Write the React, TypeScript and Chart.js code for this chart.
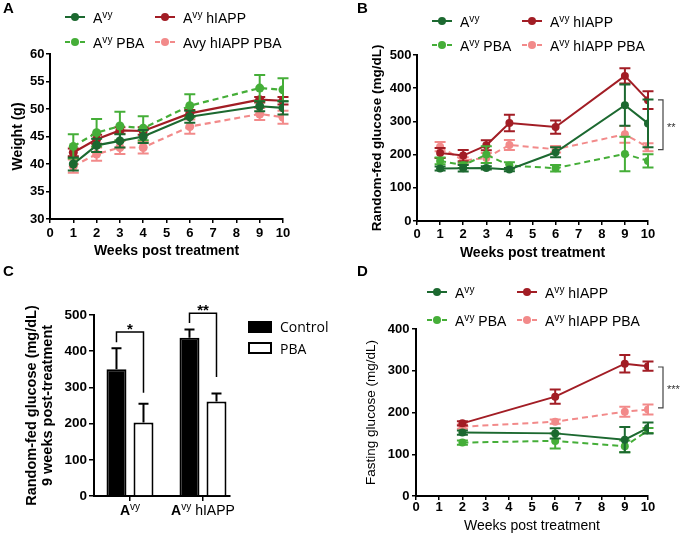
import React, { useEffect, useRef } from 'react';
import { Chart, registerables } from 'chart.js';

Chart.register(...registerables);

const FONT = "'Liberation Sans', Arial, Helvetica, sans-serif";
const FONT_C_LEGEND = "'Open Sans', 'Noto Sans', sans-serif";

const COLOR_AVY = '#1c6930';
const COLOR_AVY_PBA = '#45ae38';
const COLOR_HIAPP = '#a21d25';
const COLOR_HIAPP_PBA = '#f28a8a';

// ---- legend labels ----
const labelsA = ['A^{vy}', 'A^{vy} PBA', 'A^{vy} hIAPP', 'Avy hIAPP PBA'];
const labelsBD = ['A^{vy}', 'A^{vy} PBA', 'A^{vy} hIAPP', 'A^{vy} hIAPP PBA'];

// ---- Panel A: weight (g) ----
const weeksAB = [1, 2, 3, 4, 6, 9, 10];
const weightAvy = [40.0, 43.4, 44.2, 45.0, 48.6, 50.5, 50.2];
const weightAvyErr = [1.2, 1.2, 1.2, 1.2, 1.1, 0.9, 1.2];
const weightAvyPBA = [43.2, 45.7, 46.9, 46.5, 50.6, 53.8, 53.5];
const weightAvyPBAErr = [2.2, 2.5, 2.6, 2.2, 2.1, 2.4, 2.1];
const weightHiapp = [42.1, 44.5, 46.1, 46.0, 49.2, 51.7, 51.5];
const weightHiappErr = [0.7, 0.8, 0.6, 0.7, 0.6, 0.5, 0.7];
const weightHiappPBA = [39.6, 41.8, 43.0, 43.0, 46.8, 49.1, 48.5];
const weightHiappPBAErr = [1.2, 1.2, 1.2, 1.1, 1.3, 1.1, 1.2];

// ---- Panel B: random-fed glucose (mg/dL) ----
const rfAvy = [158, 159, 160, 155, 207, 349, 294];
const rfAvyErr = [6, 10, 5, 5, 15, 62, 72];
const rfAvyPBA = [181, 168, 200, 167, 159, 202, 181];
const rfAvyPBAErr = [10, 8, 25, 10, 10, 52, 20];
const rfHiapp = [205, 197, 228, 295, 283, 437, 364];
const rfHiappErr = [15, 17, 15, 25, 20, 23, 27];
const rfHiappPBA = [224, 182, 190, 229, 216, 261, 222];
const rfHiappPBAErr = [14, 10, 15, 15, 10, 25, 12];
const bracketB = [215, 365];

// ---- Panel C: random-fed glucose at 9 weeks ----
const groupsC = ['A^{vy}', 'A^{vy} hIAPP'];
const controlC = [350, 437];
const controlCErr = [58, 23];
const pbaC = [203, 261];
const pbaCErr = [52, 22];
const bracketTopC = [453, 505];
const bracketControlLegC = [425, 478];
const bracketPbaLegC = [285, 329];
const starsC = ['*', '**'];

// ---- Panel D: fasting glucose (mg/dL) ----
const weeksD = [2, 6, 9, 10];
const fAvy = [152, 150, 135, 163];
const fAvyErr = [5, 12, 30, 13];
const fAvyPBA = [128, 132, 119, 157];
const fAvyPBAErr = [5, 18, 14, 6];
const fHiapp = [174, 238, 317, 311];
const fHiappErr = [5, 17, 21, 11];
const fHiappPBA = [166, 178, 202, 207];
const fHiappPBAErr = [5, 5, 12, 12];
const bracketD = [211, 309];

type Part = { t: string; sup?: boolean; bold?: boolean };

function parseRich(s: string): Part[] {
  const parts: Part[] = [];
  const re = /\^\{([^}]*)\}/g;
  let last = 0;
  let m: RegExpExecArray | null;
  while ((m = re.exec(s))) {
    if (m.index > last) parts.push({ t: s.slice(last, m.index) });
    parts.push({ t: m[1], sup: true });
    last = m.index + m[0].length;
  }
  if (last < s.length) parts.push({ t: s.slice(last) });
  return parts;
}

function drawRich(ctx: any, parts: Part[], x: number, y: number, size: number, align: string, color: string, family = FONT) {
  const fontFor = (p: Part) => `${p.bold ? 'bold ' : ''}${p.sup ? size * 0.72 : size}px ${family}`;
  let total = 0;
  for (const p of parts) {
    ctx.font = fontFor(p);
    total += ctx.measureText(p.t).width;
  }
  let cx = align === 'center' ? x - total / 2 : align === 'right' ? x - total : x;
  ctx.save();
  ctx.fillStyle = color;
  ctx.textBaseline = 'alphabetic';
  ctx.textAlign = 'left';
  for (const p of parts) {
    ctx.font = fontFor(p);
    ctx.fillText(p.t, cx, p.sup ? y - size * 0.38 : y);
    cx += ctx.measureText(p.t).width;
  }
  ctx.restore();
}

function drawErrors(chart: any, di: number, errs: number[], color: string, upOnly: boolean, capHalf: number, lw: number) {
  if (!errs) return;
  const meta = chart.getDatasetMeta(di);
  const ys = chart.scales[meta.yAxisID];
  const ds = chart.data.datasets[di];
  const ctx = chart.ctx;
  ctx.save();
  ctx.strokeStyle = color;
  ctx.lineWidth = lw;
  ctx.setLineDash([]);
  meta.data.forEach((el: any, i: number) => {
    const raw = ds.data[i];
    const v = typeof raw === 'number' ? raw : raw.y;
    const e = errs[i];
    const x = el.x;
    const top = ys.getPixelForValue(v + e);
    const bot = ys.getPixelForValue(upOnly ? v : v - e);
    ctx.beginPath();
    ctx.moveTo(x, top);
    ctx.lineTo(x, bot);
    ctx.moveTo(x - capHalf, top);
    ctx.lineTo(x + capHalf, top);
    if (!upOnly) {
      ctx.moveTo(x - capHalf, bot);
      ctx.lineTo(x + capHalf, bot);
    }
    ctx.stroke();
  });
  ctx.restore();
}

function drawSample(ctx: any, x: number, y: number, color: string, dashed: boolean, r: number, lw: number) {
  ctx.save();
  ctx.strokeStyle = color;
  ctx.fillStyle = color;
  ctx.lineWidth = lw;
  ctx.beginPath();
  if (dashed) {
    ctx.moveTo(x, y);
    ctx.lineTo(x + 5, y);
    ctx.moveTo(x + 15, y);
    ctx.lineTo(x + 20, y);
  } else {
    ctx.moveTo(x, y);
    ctx.lineTo(x + 20, y);
  }
  ctx.stroke();
  ctx.beginPath();
  ctx.arc(x + 10, y, r, 0, Math.PI * 2);
  ctx.fill();
  ctx.restore();
}

function drawLetter(ctx: any, t: string, x: number, y: number) {
  ctx.save();
  ctx.font = `bold 15px ${FONT}`;
  ctx.fillStyle = '#000';
  ctx.textAlign = 'left';
  ctx.textBaseline = 'alphabetic';
  ctx.fillText(t, x, y);
  ctx.restore();
}

function axisCommon(tickSize: number, tickLen: number, pad: number) {
  return {
    grid: { display: true, drawOnChartArea: false, drawTicks: true, tickLength: tickLen, color: '#000', lineWidth: 1.5 },
    border: { display: true, color: '#000', width: 2 },
    ticks: { font: { family: FONT, size: tickSize, weight: 'bold' }, color: '#000', padding: pad, autoSkip: false, maxRotation: 0 },
  };
}

function makeLineChart(canvas: HTMLCanvasElement, spec: any) {
  const { w, h, area } = spec;
  const datasets = spec.series.map((s: any) => ({
    label: s.label,
    data: spec.weeks.map((wk: number, i: number) => ({ x: wk, y: s.values[i] })),
    borderColor: s.color,
    backgroundColor: s.color,
    borderWidth: spec.lineWidth,
    borderDash: s.dashed ? [6, 4] : [],
    pointRadius: spec.pointRadius,
    pointBackgroundColor: s.color,
    pointBorderWidth: 0,
    tension: 0,
    fill: false,
    errors: s.errors,
  }));
  const xa: any = axisCommon(spec.tickSize, 4, spec.xTickPad);
  const ya: any = axisCommon(spec.tickSize, 4, spec.yTickPad);
  const plugin = {
    id: 'extras' + spec.letter.t,
    afterDatasetDraw(chart: any, args: any) {
      const ds = chart.data.datasets[args.index];
      drawErrors(chart, args.index, ds.errors, ds.borderColor, false, spec.capHalf, 2);
    },
    afterDraw(chart: any) {
      const ctx = chart.ctx;
      const L = spec.legend;
      const pos = [[L.x1, L.y1], [L.x1, L.y2], [L.x2, L.y1], [L.x2, L.y2]];
      spec.series.forEach((s: any, i: number) => {
        const [x, y] = pos[i];
        drawSample(ctx, x, y, s.color, s.dashed, spec.legendDot, 2);
        drawRich(ctx, parseRich(s.label), x + 28, y + L.textDy, L.size, 'left', '#000');
      });
      if (spec.bracket) {
        const b = spec.bracket;
        const ys = chart.scales.y;
        const bx = chart.chartArea.right + 15;
        const y1 = ys.getPixelForValue(b.values[1]);
        const y2 = ys.getPixelForValue(b.values[0]);
        ctx.save();
        ctx.strokeStyle = '#444';
        ctx.lineWidth = 1.2;
        ctx.beginPath();
        ctx.moveTo(bx - 5, y1);
        ctx.lineTo(bx, y1);
        ctx.lineTo(bx, y2);
        ctx.lineTo(bx - 5, y2);
        ctx.stroke();
        ctx.font = `11px ${FONT}`;
        ctx.fillStyle = '#333';
        ctx.textAlign = 'left';
        ctx.textBaseline = 'alphabetic';
        ctx.fillText(b.stars, bx + 4, (y1 + y2) / 2 + 6);
        ctx.restore();
      }
      drawLetter(ctx, spec.letter.t, spec.letter.x, spec.letter.y);
    },
  };
  return new Chart(canvas, {
    type: 'line',
    data: { datasets },
    options: {
      responsive: false,
      maintainAspectRatio: false,
      animation: false,
      events: [],
      layout: { padding: { left: 0, top: area.top, right: w - area.right, bottom: 0 } },
      plugins: { legend: { display: false }, tooltip: { enabled: false }, title: { display: false } },
      scales: {
        x: {
          type: 'linear',
          min: 0,
          max: 10,
          ...xa,
          ticks: { ...xa.ticks, stepSize: 1 },
          title: {
            display: true,
            text: spec.xTitle,
            color: '#000',
            font: { family: FONT, size: spec.xTitleSize, weight: spec.xTitleBold ? 'bold' : 'normal' },
            padding: { top: 0, bottom: spec.xTitlePad },
          },
          afterFit: (s: any) => { s.height = h - area.bottom; },
        },
        y: {
          type: 'linear',
          min: spec.yMin,
          max: spec.yMax,
          ...ya,
          ticks: { ...ya.ticks, stepSize: spec.yStep },
          title: {
            display: true,
            text: spec.yTitle,
            color: '#000',
            font: { family: FONT, size: spec.yTitleSize, weight: spec.yTitleBold ? 'bold' : 'normal' },
            padding: { top: spec.yTitlePad, bottom: 0 },
          },
          afterFit: (s: any) => { s.width = area.left; },
        },
      },
    } as any,
    plugins: [plugin as any],
  });
}

function buildSeries(labels: string[], vals: number[][], errs: number[][]) {
  const colors = [COLOR_AVY, COLOR_AVY_PBA, COLOR_HIAPP, COLOR_HIAPP_PBA];
  const dashed = [false, true, false, true];
  return labels.map((label, i) => ({ label, color: colors[i], dashed: dashed[i], values: vals[i], errors: errs[i] }));
}

function makeBarChart(canvas: HTMLCanvasElement) {
  const w = 340, h = 273;
  const area = { left: 94, right: 230, top: 53, bottom: 234 };
  const xa: any = axisCommon(13.5, 5, 2);
  const ya: any = axisCommon(13.5, 5, 2);
  const plugin = {
    id: 'extrasC',
    afterDatasetDraw(chart: any, args: any) {
      const ds = chart.data.datasets[args.index];
      drawErrors(chart, args.index, ds.errors, '#000', true, 5, 2);
    },
    afterDraw(chart: any) {
      const ctx = chart.ctx;
      const xs = chart.scales.x;
      const ys = chart.scales.y;
      // category labels
      groupsC.forEach((g, i) => {
        const parts = parseRich(g);
        parts[0] = { t: parts[0].t, bold: true };
        drawRich(ctx, parts, xs.getPixelForValue(i), 253, 14, 'center', '#000');
      });
      // significance brackets
      const m0 = chart.getDatasetMeta(0);
      const m1 = chart.getDatasetMeta(1);
      ctx.save();
      ctx.strokeStyle = '#000';
      ctx.lineWidth = 1.5;
      groupsC.forEach((_, i) => {
        const lx = m0.data[i].x;
        const rx = m1.data[i].x;
        const yt = ys.getPixelForValue(bracketTopC[i]);
        ctx.beginPath();
        ctx.moveTo(lx, ys.getPixelForValue(bracketControlLegC[i]));
        ctx.lineTo(lx, yt);
        ctx.lineTo(rx, yt);
        ctx.lineTo(rx, ys.getPixelForValue(bracketPbaLegC[i]));
        ctx.stroke();
        ctx.font = `bold 15px ${FONT}`;
        ctx.fillStyle = '#000';
        ctx.textAlign = 'center';
        ctx.textBaseline = 'alphabetic';
        ctx.fillText(starsC[i], (lx + rx) / 2, yt + 2);
      });
      ctx.restore();
      // legend
      ctx.save();
      ctx.fillStyle = '#000';
      ctx.fillRect(248, 59, 24, 12);
      ctx.strokeStyle = '#000';
      ctx.lineWidth = 2;
      ctx.fillStyle = '#fff';
      ctx.fillRect(249, 81, 22, 10);
      ctx.strokeRect(249, 81, 22, 10);
      ctx.fillStyle = '#000';
      ctx.font = `14px ${FONT_C_LEGEND}`;
      ctx.textAlign = 'left';
      ctx.textBaseline = 'alphabetic';
      ctx.fillText(chart.data.datasets[0].label, 280, 70);
      ctx.fillText(chart.data.datasets[1].label, 280, 92);
      ctx.restore();
      drawLetter(ctx, 'C', 3, 14);
    },
  };
  return new Chart(canvas, {
    type: 'bar',
    data: {
      datasets: [
        {
          label: 'Control',
          data: controlC.map((v, i) => ({ x: i, y: v })),
          backgroundColor: '#000',
          borderColor: '#000',
          borderWidth: 2,
          categoryPercentage: 0.74,
          barPercentage: 0.74,
          errors: controlCErr,
        },
        {
          label: 'PBA',
          data: pbaC.map((v, i) => ({ x: i, y: v })),
          backgroundColor: '#fff',
          borderColor: '#000',
          borderWidth: 2,
          categoryPercentage: 0.74,
          barPercentage: 0.74,
          errors: pbaCErr,
        },
      ],
    },
    options: {
      responsive: false,
      maintainAspectRatio: false,
      animation: false,
      events: [],
      layout: { padding: { left: 0, top: area.top, right: w - area.right, bottom: 0 } },
      plugins: { legend: { display: false }, tooltip: { enabled: false } },
      scales: {
        x: {
          type: 'linear',
          min: -0.493,
          max: 1.37,
          offset: false,
          ...xa,
          grid: { ...xa.grid, offset: false },
          ticks: { ...xa.ticks, display: false },
          afterBuildTicks: (s: any) => { s.ticks = groupsC.map((_, i) => ({ value: i })); },
          afterFit: (s: any) => { s.height = h - area.bottom; },
        },
        y: {
          type: 'linear',
          min: 0,
          max: 500,
          ...ya,
          ticks: { ...ya.ticks, stepSize: 100 },
          title: {
            display: true,
            text: ['Random-fed glucose (mg/dL)', '9 weeks post-treatment'],
            color: '#000',
            font: { family: FONT, size: 14.5, weight: 'bold', lineHeight: 1.1 },
            padding: { top: 24, bottom: 0 },
          },
          afterFit: (s: any) => { s.width = area.left; },
        },
      },
    } as any,
    plugins: [plugin as any],
  });
}

export default function App() {
  const refA = useRef<HTMLCanvasElement>(null);
  const refB = useRef<HTMLCanvasElement>(null);
  const refC = useRef<HTMLCanvasElement>(null);
  const refD = useRef<HTMLCanvasElement>(null);

  useEffect(() => {
    const charts: Chart[] = [];
    charts.push(
      makeLineChart(refA.current as HTMLCanvasElement, {
        w: 340, h: 262,
        area: { left: 50, right: 283, top: 54, bottom: 219 },
        weeks: weeksAB,
        series: buildSeries(labelsA, [weightAvy, weightAvyPBA, weightHiapp, weightHiappPBA], [weightAvyErr, weightAvyPBAErr, weightHiappErr, weightHiappPBAErr]),
        yMin: 30, yMax: 60, yStep: 5,
        yTitle: 'Weight (g)', yTitleBold: true, yTitleSize: 14, yTitlePad: 9.6,
        xTitle: 'Weeks post treatment', xTitleBold: true, xTitleSize: 14, xTitlePad: 2.6,
        tickSize: 13, xTickPad: 2.7, yTickPad: 1.5,
        pointRadius: 4.5, lineWidth: 2.2, capHalf: 5.5, legendDot: 4,
        legend: { x1: 65, x2: 155, y1: 17, y2: 42, size: 14, textDy: 6 },
        letter: { t: 'A', x: 3, y: 13 },
      })
    );
    charts.push(
      makeLineChart(refB.current as HTMLCanvasElement, {
        w: 345, h: 262,
        area: { left: 77, right: 308, top: 55, bottom: 221 },
        weeks: weeksAB,
        series: buildSeries(labelsBD, [rfAvy, rfAvyPBA, rfHiapp, rfHiappPBA], [rfAvyErr, rfAvyPBAErr, rfHiappErr, rfHiappPBAErr]),
        yMin: 0, yMax: 500, yStep: 100,
        yTitle: 'Random-fed glucose (mg/dL)', yTitleBold: true, yTitleSize: 13.5, yTitlePad: 29,
        xTitle: 'Weeks post treatment', xTitleBold: true, xTitleSize: 14, xTitlePad: 0.6,
        tickSize: 13, xTickPad: 1.2, yTickPad: 1.5,
        pointRadius: 4, lineWidth: 2, capHalf: 5.5, legendDot: 4,
        legend: { x1: 92, x2: 182, y1: 21, y2: 45, size: 14, textDy: 6 },
        letter: { t: 'B', x: 17, y: 13 },
        bracket: { values: bracketB, stars: '**' },
      })
    );
    charts.push(makeBarChart(refC.current as HTMLCanvasElement));
    charts.push(
      makeLineChart(refD.current as HTMLCanvasElement, {
        w: 345, h: 273,
        area: { left: 76, right: 308, top: 67, bottom: 234 },
        weeks: weeksD,
        series: buildSeries(labelsBD, [fAvy, fAvyPBA, fHiapp, fHiappPBA], [fAvyErr, fAvyPBAErr, fHiappErr, fHiappPBAErr]),
        yMin: 0, yMax: 400, yStep: 100,
        yTitle: 'Fasting glucose (mg/dL)', yTitleBold: false, yTitleSize: 13.5, yTitlePad: 23,
        xTitle: 'Weeks post treatment', xTitleBold: false, xTitleSize: 14, xTitlePad: 0,
        tickSize: 13, xTickPad: 0, yTickPad: 2.5,
        pointRadius: 4, lineWidth: 2, capHalf: 5.5, legendDot: 4,
        legend: { x1: 87, x2: 177, y1: 30, y2: 58, size: 14, textDy: 6 },
        letter: { t: 'D', x: 17, y: 14 },
        bracket: { values: bracketD, stars: '***' },
      })
    );
    return () => charts.forEach((c) => c.destroy());
  }, []);

  const cs = (left: number, top: number, w: number, h: number): React.CSSProperties => ({
    position: 'absolute', left, top, width: w, height: h, display: 'block',
  });

  return (
    <div style={{ position: 'absolute', left: 0, top: 0, width: 685, height: 535, background: '#fff', overflow: 'hidden' }}>
      <canvas ref={refA} width={340} height={262} style={cs(0, 0, 340, 262)} />
      <canvas ref={refB} width={345} height={262} style={cs(340, 0, 345, 262)} />
      <canvas ref={refC} width={340} height={273} style={cs(0, 262, 340, 273)} />
      <canvas ref={refD} width={345} height={273} style={cs(340, 262, 345, 273)} />
    </div>
  );
}
